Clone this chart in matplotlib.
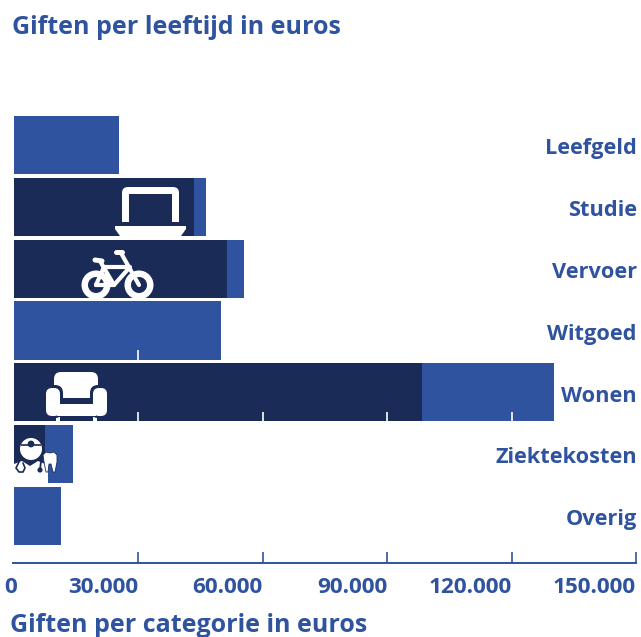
import matplotlib
matplotlib.use('Agg')
import matplotlib.pyplot as plt
from matplotlib.patches import Circle, FancyBboxPatch, Polygon, Rectangle, Wedge
from matplotlib.transforms import ScaledTranslation

categories = ["Leefgeld", "Studie", "Vervoer", "Witgoed", "Wonen", "Ziektekosten", "Overig"]
# dark part of the bar (0 where the bar is one colour) and the lighter rest
dark_values = [0, 43500, 51450, 0, 98400, 7600, 0]
light_values = [25400, 2900, 4210, 49900, 31800, 6740, 11500]
x_ticks = [0, 30000, 60000, 90000, 120000, 150000]
x_labels = ["0", "30.000", "60.000", "90.000", "120.000", "150.000"]
# rows where the ticks carry on in white over the bar
ticked_rows = ["Witgoed", "Wonen"]

BLUE = "#2f539f"
DARK = "#1a2b57"
W, H = 641, 637

plt.rcParams['font.family'] = ['Open Sans', 'DejaVu Sans']
plt.rcParams['font.weight'] = 'bold'

fig = plt.figure(figsize=(W / 100, H / 100), dpi=100)
ax = fig.add_axes([13.5 / W, (H - 563) / H, 622.5 / W, 463 / H])

ys = list(range(len(categories)))
ax.barh(ys, dark_values, height=0.94, color=DARK)
ax.barh(ys, light_values, left=dark_values, height=0.94, color=BLUE)

ax.set_xlim(0, 150000)
ax.set_ylim(6.76, -0.728)
ax.set_yticks([])
ax.set_xticks(x_ticks)
ax.set_xticklabels(x_labels, ha='right', fontsize=16.2, color=BLUE)
ax.tick_params(axis='x', direction='in', length=8, width=1.2, color=BLUE, pad=10)
ax.get_xticklines()[0].set_visible(False)
zero = ax.get_xticklabels()[0]
zero.set_ha('center')
zero.set_transform(zero.get_transform() + ScaledTranslation(-2.5 / 100, 0, fig.dpi_scale_trans))
for s in ['top', 'left', 'right']:
    ax.spines[s].set_visible(False)
ax.spines['bottom'].set_color(BLUE)
ax.spines['bottom'].set_linewidth(1.4)

for i, name in enumerate(categories):
    ax.text(150200, i + 0.06, name, ha='right', va='center', fontsize=15.7, color=BLUE)
    if name in ticked_rows:
        total = dark_values[i] + light_values[i]
        for t in x_ticks[1:]:
            if t < total:
                ax.plot([t, t], [i + 0.47, i + 0.31], color='white', lw=1.2, solid_capstyle='butt')

fig.text(12 / W, 1 - 28 / H, "Giften per leeftijd in euros", fontsize=18, color=BLUE, va='center')
fig.text(10 / W, 1 - 626 / H, "Giften per categorie in euros", fontsize=18, color=BLUE, va='center')

# pictograms, laid over the chart in pixel coordinates
ic = fig.add_axes([0, 0, 1, 1], facecolor='none')
ic.set_xlim(0, W)
ic.set_ylim(H, 0)
ic.axis('off')


def rbox(x, y, w, h, r, c='white', z=3):
    ic.add_patch(FancyBboxPatch((x + r, y + r), w - 2 * r, h - 2 * r,
                                boxstyle="round,pad=%f,rounding_size=%f" % (r, r),
                                fc=c, ec='none', zorder=z))


def rect(x, y, w, h, c='white', z=3):
    ic.add_patch(Rectangle((x, y), w, h, fc=c, ec='none', zorder=z))


def seg(pts, lw=3.0, c='white', z=3, cap='round'):
    ic.plot([p[0] for p in pts], [p[1] for p in pts], color=c, lw=lw,
            solid_capstyle=cap, solid_joinstyle='round', zorder=z)


# axis line starts just left of zero
seg([(12, 563), (14, 563)], lw=1.4, c=BLUE, cap='butt')

# laptop
rbox(122, 187, 57, 20, 6)
rect(122, 198, 57, 24)
rect(129, 194, 43, 29, c=DARK, z=4)
ic.add_patch(Polygon([(115, 226), (186, 226), (186, 229), (181, 236), (120, 236), (115, 229)],
                     fc='white', ec='none', zorder=3))

# bicycle
clip = Rectangle((0, 240), W, 58, transform=ic.transData)
for cx in (96, 139):
    ic.add_patch(Wedge((cx, 285), 14.5, 0, 360, width=6.5, fc='white', ec='none', zorder=3, clip_path=clip))
seg([(96, 285), (114, 285), (130, 267), (104, 267), (96, 285)])
seg([(100, 261), (114, 285)])
seg([(121, 253), (139, 285)])
seg([(95, 260), (102, 261)], lw=3.6)
seg([(116, 252), (122, 252)], lw=3.6)

# sofa
rbox(54, 372, 44, 24, 7)
rect(63, 385, 27, 13)
rbox(43, 385, 20, 33, 8, c=DARK, z=4)
rbox(90, 385, 20, 33, 8, c=DARK, z=4)
rbox(46, 388, 14, 28, 6, z=5)
rbox(93, 388, 14, 28, 6, z=5)
rect(57, 404, 39, 12, z=6)
rect(56, 415, 4, 6)
rect(93, 415, 4, 6)

# doctor with tooth
ic.add_patch(Polygon([(14, 464), (22, 461), (30, 466), (38, 461), (45, 464), (48, 470), (48, 483), (14, 483)],
                     fc='white', ec='none', zorder=3))
ic.add_patch(Circle((31, 449), 11, fc='white', ec='none', zorder=4))
seg([(21, 445), (41, 445)], lw=1.2, c=DARK, z=5, cap='butt')
ic.add_patch(Circle((31, 444), 3.4, fc=DARK, ec='none', zorder=5))
seg([(19, 462), (16, 468), (19, 472), (23, 472), (25, 468), (23, 463)], lw=1.2, c=DARK, z=5)
seg([(41, 461), (40, 470)], lw=1.3, c=DARK, z=5)
ic.add_patch(Circle((40, 470), 2.6, fc=DARK, ec='none', zorder=5))
ic.add_patch(Polygon([(43, 455), (46, 452), (50, 453), (54, 452), (57, 455), (57, 462), (55, 472),
                      (53, 472), (51, 464), (49, 464), (48, 472), (46, 472), (44, 462)],
                     fc='white', ec=DARK, lw=0.6, zorder=6))

fig.savefig("out.png", dpi=100)
